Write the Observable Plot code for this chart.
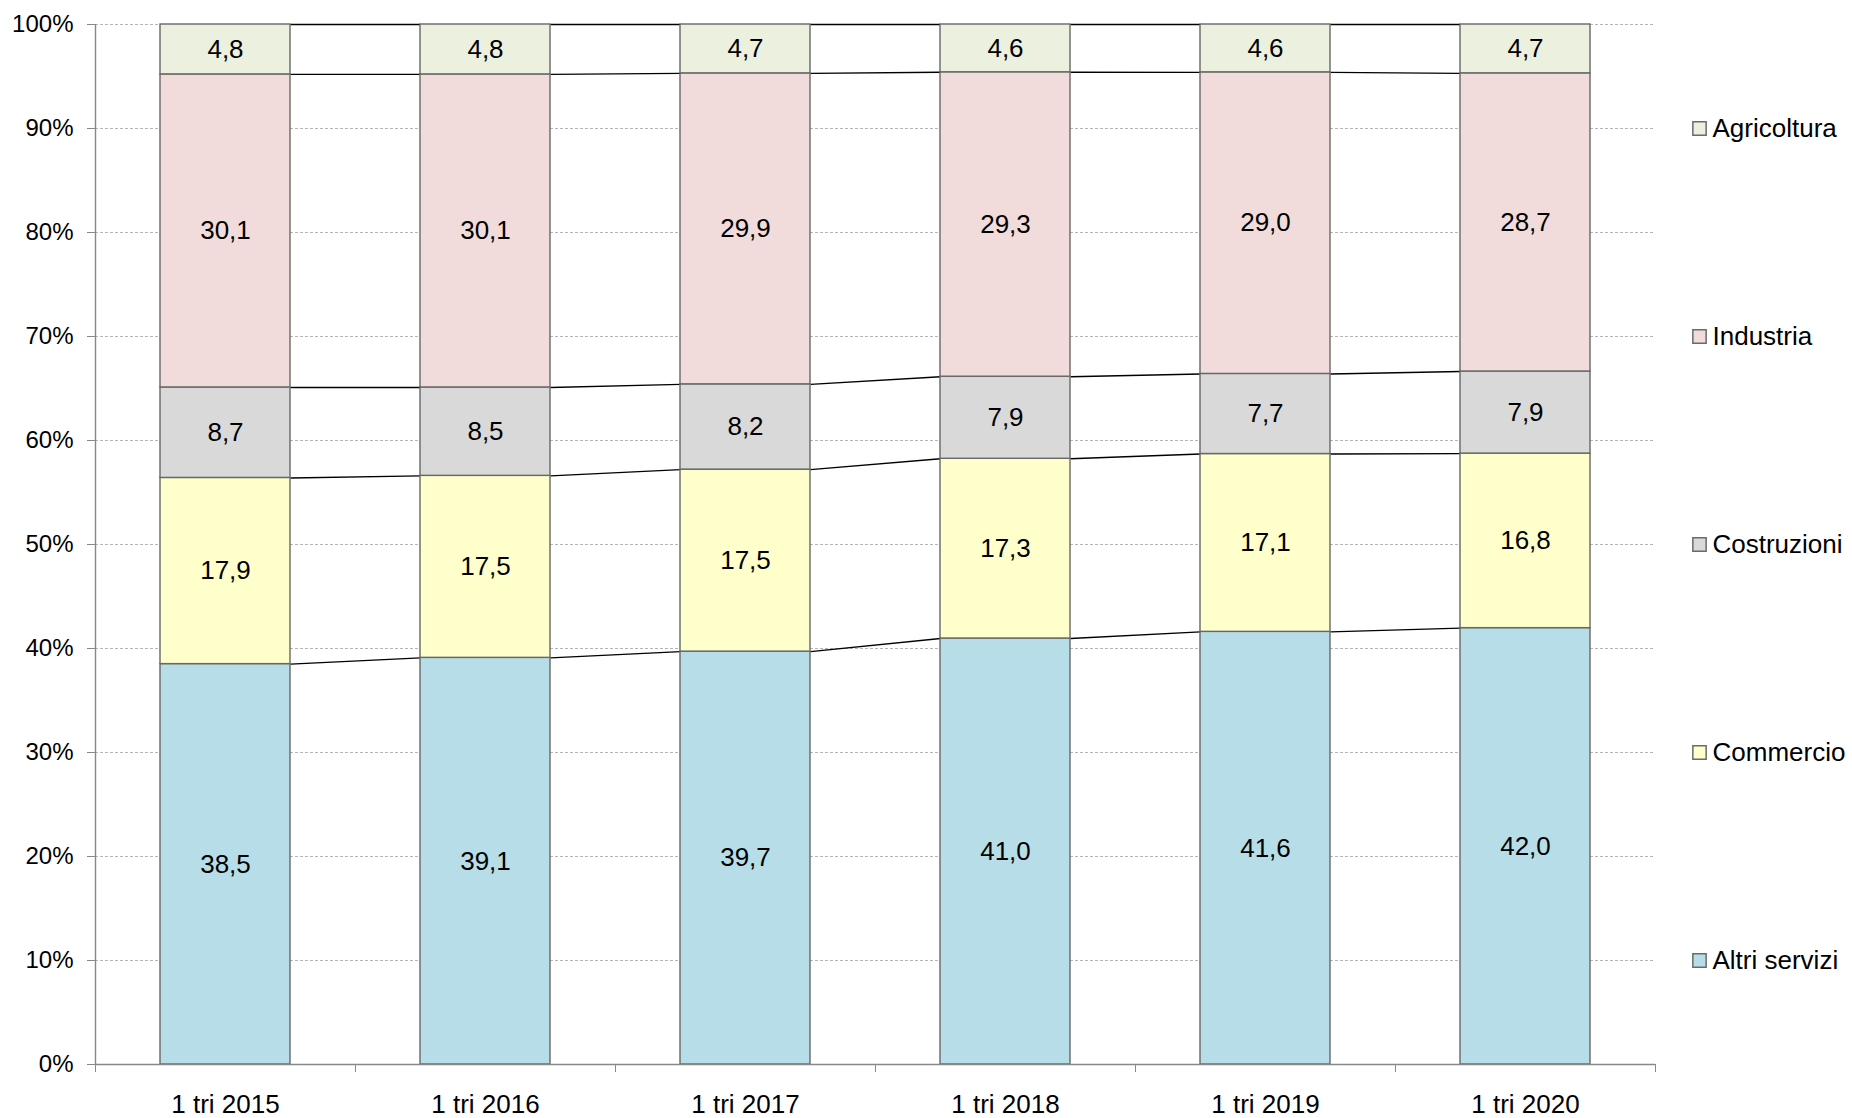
<!DOCTYPE html>
<html>
<head>
<meta charset="utf-8">
<script src="https://cdn.jsdelivr.net/npm/d3@7"></script>
<script src="https://cdn.jsdelivr.net/npm/@observablehq/plot@0.6"></script>
<style>
  body { margin: 0; background: #fff; }
  #chart svg { display: block; }
</style>
</head>
<body>
<div id="chart"></div>
<script>
// ---- Data ----
const categories = ["1 tri 2015", "1 tri 2016", "1 tri 2017", "1 tri 2018", "1 tri 2019", "1 tri 2020"];
// series listed bottom-to-top of the stack
const seriesNames = ["Altri servizi", "Commercio", "Costruzioni", "Industria", "Agricoltura"];
const altriServizi = [38.5, 39.1, 39.7, 41.0, 41.6, 42.0];
const commercio    = [17.9, 17.5, 17.5, 17.3, 17.1, 16.8];
const costruzioni  = [8.7, 8.5, 8.2, 7.9, 7.7, 7.9];
const industria    = [30.1, 30.1, 29.9, 29.3, 29.0, 28.7];
const agricoltura  = [4.8, 4.8, 4.7, 4.6, 4.6, 4.7];
const seriesColors = ["#B7DEE8", "#FFFFCC", "#D9D9D9", "#F2DCDB", "#EBF1DE"];
const yTickValues = [0, 0.1, 0.2, 0.3, 0.4, 0.5, 0.6, 0.7, 0.8, 0.9, 1];

// ---- Build tables (100% stacked) ----
const seriesValues = [altriServizi, commercio, costruzioni, industria, agricoltura];
const barPad = 0.25; // half of the gap on each side of a bar, in category units
const rows = [];
const tops = seriesNames.map(() => []);
categories.forEach((cat, i) => {
  const total = d3.sum(seriesValues, s => s[i]);
  let acc = 0;
  seriesNames.forEach((name, k) => {
    const v = seriesValues[k][i];
    const y1 = acc / total;
    acc += v;
    const y2 = acc / total;
    tops[k][i] = y2;
    rows.push({category: cat, i, series: name, value: v, y1, y2, mid: (y1 + y2) / 2});
  });
});
const links = [];
seriesNames.forEach((name, k) => {
  for (let i = 0; i < categories.length - 1; i++) {
    links.push({series: name, x1: i + 1 - barPad, x2: i + 1 + barPad, y1: tops[k][i], y2: tops[k][i + 1]});
  }
});
const legendRows = seriesNames.map((name, k) => ({series: name, pos: (k + 0.5) / seriesNames.length}));

const fmt = d3.formatLocale({decimal: ",", thousands: ".", grouping: [3], currency: ["€", ""]}).format(".1f");
const font = "'Liberation Sans', Arial, sans-serif";

const chart = Plot.plot({
  width: 1852,
  height: 1118,
  marginLeft: 95,
  marginRight: 197,
  marginTop: 24,
  marginBottom: 54,
  style: {fontFamily: font, fontSize: "24px", color: "#000", background: "#fff"},
  x: {type: "linear", domain: [0, categories.length], axis: null},
  y: {domain: [0, 1], axis: null},
  color: {domain: seriesNames, range: seriesColors},
  marks: [
    Plot.gridY(yTickValues, {stroke: "#b4b4b4", strokeOpacity: 1, strokeWidth: 1, strokeDasharray: "3,2"}),
    Plot.link(links, {x1: "x1", x2: "x2", y1: "y1", y2: "y2", stroke: "#000", strokeWidth: 1.4}),
    Plot.rect(rows, {
      x1: d => d.i + barPad, x2: d => d.i + 1 - barPad,
      y1: "y1", y2: "y2",
      fill: "series", stroke: "#676767", strokeWidth: 1.4
    }),
    Plot.text(rows, {x: d => d.i + 0.5, y: "mid", text: d => fmt(d.value), fill: "#000", fontSize: 26}),
    // axes lines
    Plot.ruleX([0], {stroke: "#888", strokeWidth: 1.4}),
    Plot.ruleY([0], {stroke: "#888", strokeWidth: 1.4}),
    Plot.axisY({ticks: yTickValues, tickFormat: d3.format(".0%"), tickSize: 8, tickPadding: 14, stroke: "#888", fill: "#000", fontSize: 24}),
    Plot.axisX({ticks: d3.range(0, categories.length + 1), tickFormat: () => "", tickSize: 8, stroke: "#888"}),
    Plot.axisX({ticks: categories.map((c, i) => i + 0.5), tickFormat: v => categories[Math.round(v - 0.5)], tickSize: 0, tickPadding: 30, fill: "#000", fontSize: 26}),
    // legend on the right
    Plot.dot(legendRows, {y: "pos", frameAnchor: "right", dx: 44, symbol: "square", r: 7.5, fill: "series", stroke: "#6a6a6a", strokeWidth: 1.5}),
    Plot.text(legendRows, {y: "pos", frameAnchor: "right", dx: 57, text: "series", textAnchor: "start", fill: "#000", fontSize: 26})
  ]
});
document.getElementById("chart").appendChild(chart);
</script>
</body>
</html>
